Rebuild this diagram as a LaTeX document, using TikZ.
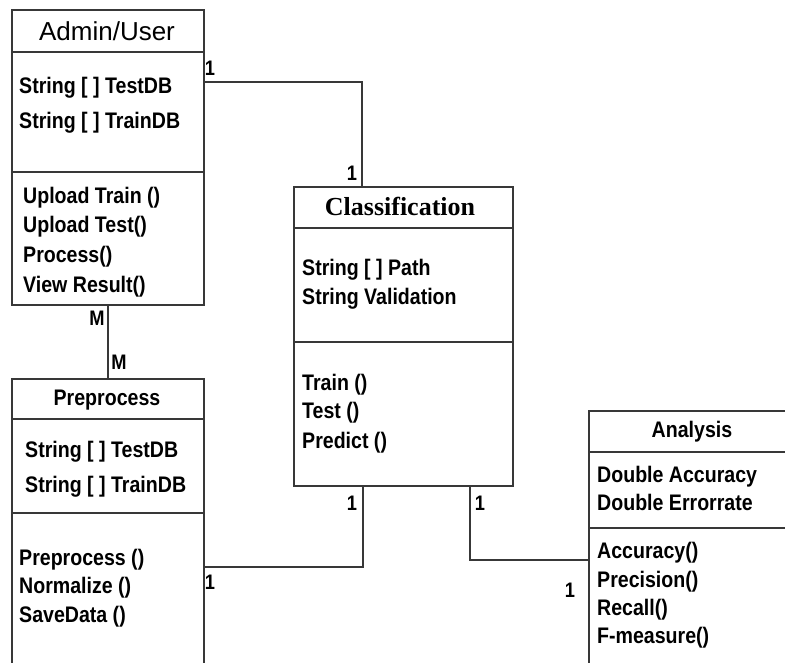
\documentclass[tikz,border=0pt]{standalone}
\usepackage{fontspec}
\setmainfont{Liberation Sans}
\newfontfamily\umlsans[FakeStretch=0.87]{Liberation Sans}
\newfontfamily\umlserif{Liberation Serif}

\tikzset{
  classbox/.style={draw=black!78, line width=1.6pt, rectangle, inner sep=0pt,
                   anchor=north west, fill=white},
  divider/.style={draw=black!78, line width=1.6pt},
  conn/.style={draw=black!78, line width=1.6pt},
  member/.style={anchor=base west, inner sep=0pt,
                 font=\umlsans\bfseries\fontsize{22.5}{26}\selectfont},
  ctitle/.style={anchor=base, inner sep=0pt,
                 font=\umlsans\bfseries\fontsize{22.5}{26}\selectfont},
  mult/.style={inner sep=0pt, font=\umlsans\bfseries\fontsize{21}{24}\selectfont},
}

\begin{document}
\begin{tikzpicture}[x=1pt,y=-1pt]
\useasboundingbox (0,0) rectangle (785,662);
\clip (0,0) rectangle (785,662);

% class boxes
\node[classbox, minimum width=192pt, minimum height=295pt] (adm) at (11,9) {};
\node[classbox, minimum width=219pt, minimum height=299pt] (cls) at (293,186) {};
\node[classbox, minimum width=192pt, minimum height=330pt] (pre) at (11,378) {};
\node[classbox, minimum width=240pt, minimum height=300pt] (ana) at (588,410) {};

% compartment dividers
\draw[divider] ([yshift=-43pt]adm.north west) -- ([yshift=-43pt]adm.north east);
\draw[divider] ([yshift=-163pt]adm.north west) -- ([yshift=-163pt]adm.north east);
\draw[divider] ([yshift=-42pt]cls.north west) -- ([yshift=-42pt]cls.north east);
\draw[divider] ([yshift=-156pt]cls.north west) -- ([yshift=-156pt]cls.north east);
\draw[divider] ([yshift=-41pt]pre.north west) -- ([yshift=-41pt]pre.north east);
\draw[divider] ([yshift=-135pt]pre.north west) -- ([yshift=-135pt]pre.north east);
\draw[divider] ([yshift=-42pt]ana.north west) -- ([yshift=-42pt]ana.north east);
\draw[divider] ([yshift=-118pt]ana.north west) -- ([yshift=-118pt]ana.north east);

% Admin/User
\node[anchor=base, inner sep=0pt, font=\fontsize{26}{30}\selectfont] (admT) at (107,40) {Admin/User};
\node[member] (admA1) at (19,93) {String [ ] TestDB};
\node[member] (admA2) at (19,128) {String [ ] TrainDB};
\node[member] (admM1) at (23,203) {Upload Train ()};
\node[member] (admM2) at (23,232) {Upload Test()};
\node[member] (admM3) at (23,262) {Process()};
\node[member] (admM4) at (23,292) {View Result()};

% Classification
\node[anchor=base, inner sep=0pt, font=\umlserif\bfseries\fontsize{26}{30}\selectfont] (clsT) at (400,215) {Classification};
\node[member] (clsA1) at (302,275) {String [ ] Path};
\node[member] (clsA2) at (302,304) {String Validation};
\node[member] (clsM1) at (302,390) {Train ()};
\node[member] (clsM2) at (302,418) {Test ()};
\node[member] (clsM3) at (302,448) {Predict ()};

% Preprocess
\node[ctitle] (preT) at (107,405) {Preprocess};
\node[member] (preA1) at (25,457) {String [ ] TestDB};
\node[member] (preA2) at (25,492) {String [ ] TrainDB};
\node[member] (preM1) at (19,565) {Preprocess ()};
\node[member] (preM2) at (19,593) {Normalize ()};
\node[member] (preM3) at (19,622) {SaveData ()};

% Analysis
\node[ctitle] (anaT) at (692,437) {Analysis};
\node[member] (anaA1) at (597,482) {Double Accuracy};
\node[member] (anaA2) at (597,510) {Double Errorrate};
\node[member] (anaM1) at (597,558) {Accuracy()};
\node[member] (anaM2) at (597,587) {Precision()};
\node[member] (anaM3) at (597,615) {Recall()};
\node[member] (anaM4) at (597,643) {F-measure()};

% associations
\draw[conn] ([yshift=-73pt]adm.north east) -| ([xshift=69pt]cls.north west);
\draw[conn] (adm.south) -- (pre.north);
\draw[conn] ([xshift=70pt]cls.south west) |- ([yshift=-189pt]pre.north east);
\draw[conn] ([xshift=177pt]cls.south west) |- ([yshift=-150pt]ana.north west);

% multiplicities
\node[mult] (m1) at (210,68) {1};
\node[mult] (m2) at (352,173) {1};
\node[mult] (m3) at (97,318) {M};
\node[mult] (m4) at (119,362) {M};
\node[mult] (m5) at (352,503) {1};
\node[mult] (m6) at (210,582) {1};
\node[mult] (m7) at (480,503) {1};
\node[mult] (m8) at (570,590) {1};
\end{tikzpicture}
\end{document}
